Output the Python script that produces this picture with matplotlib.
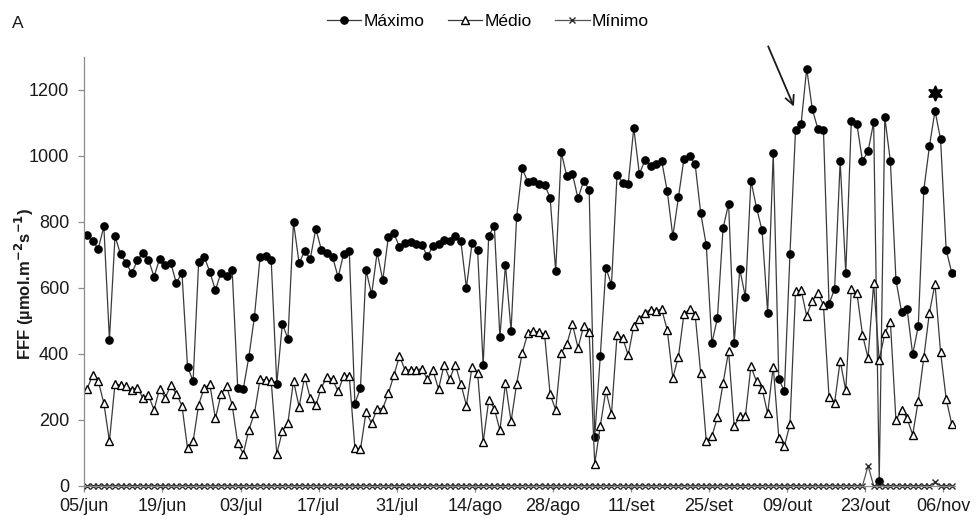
import numpy as np
import matplotlib
matplotlib.use("Agg")
import matplotlib.pyplot as plt

plt.rcParams['font.family'] = ['Liberation Sans', 'DejaVu Sans']

# daily photon flux, 05/jun .. 07/nov
maximo = [759, 741, 719, 786, 443, 756, 702, 675, 644, 683,
          707, 685, 634, 688, 669, 675, 614, 646, 361, 317,
          679, 694, 648, 593, 646, 636, 655, 296, 294, 391,
          513, 692, 696, 684, 309, 491, 446, 799, 675, 711,
          688, 779, 715, 706, 694, 632, 704, 711, 249, 296,
          654, 580, 708, 623, 754, 765, 724, 735, 740, 734,
          731, 695, 727, 733, 745, 742, 758, 741, 600, 735,
          715, 365, 758, 788, 451, 670, 470, 815, 962, 921,
          924, 915, 913, 873, 651, 1011, 938, 946, 871, 924,
          898, 148, 394, 661, 609, 943, 919, 915, 1085, 945,
          987, 969, 977, 985, 893, 756, 875, 992, 999, 975,
          827, 729, 432, 509, 780, 855, 434, 657, 573, 925,
          843, 774, 525, 1008, 323, 287, 704, 1080, 1098, 1265,
          1142, 1082, 1080, 552, 595, 984, 644, 1107, 1096, 985,
          1014, 1102, 15, 1117, 984, 624, 527, 535, 398, 484,
          898, 1029, 1137, 1050, 715, 646]

medio = [294, 335, 317, 250, 135, 309, 304, 301, 291, 297,
         266, 274, 230, 294, 266, 305, 278, 243, 113, 134,
         246, 297, 307, 204, 277, 301, 245, 128, 97, 170,
         220, 322, 321, 318, 97, 165, 191, 318, 239, 331,
         266, 244, 297, 331, 322, 286, 333, 333, 115, 110,
         223, 189, 234, 234, 280, 335, 394, 350, 352, 350,
         355, 323, 350, 293, 367, 323, 367, 309, 243, 361,
         342, 132, 259, 234, 168, 311, 195, 309, 403, 462,
         470, 465, 460, 277, 230, 403, 429, 490, 418, 483,
         465, 66, 182, 289, 217, 456, 448, 396, 485, 506,
         525, 534, 531, 535, 472, 327, 391, 521, 535, 519,
         341, 134, 150, 207, 310, 408, 180, 210, 210, 362,
         316, 294, 219, 361, 145, 120, 186, 589, 593, 515,
         561, 584, 548, 269, 251, 379, 289, 597, 584, 458,
         387, 614, 380, 462, 497, 198, 231, 204, 154, 258,
         390, 525, 612, 404, 264, 186]

minimo = [0] * 156
minimo[140] = 60
minimo[152] = 10

tick_labels = ['05/jun', '19/jun', '03/jul', '17/jul', '31/jul', '14/ago',
               '28/ago', '11/set', '25/set', '09/out', '23/out', '06/nov']

# highlighted day and its value
star_day = 152
star_value = 1190

days = np.arange(len(maximo))

fig = plt.figure(figsize=(9.76, 5.2), dpi=100)
ax = fig.add_axes([0.0864, 0.066, 0.8916, 0.8244])

line_col = '#3a3a3a'
ax.plot(days, maximo, '-', color=line_col, lw=0.9, marker='o', ms=5.2,
        mfc='black', mec='black', label='Máximo')
ax.plot(days, medio, '-', color=line_col, lw=0.9, marker='^', ms=5.2,
        mfc='white', mec='black', mew=1.0, label='Médio')
ax.plot(days, minimo, '-', color='#555555', lw=0.9, marker='x', ms=3.8,
        mec='#2a2a2a', mew=1.0, label='Mínimo', clip_on=False)

ax.plot([star_day], [star_value], marker=(6, 1, 0), ms=11, color='black',
        ls='none')

ax.annotate('', xy=(126.9, 1142), xytext=(121.9, 1340),
            xycoords='data', textcoords='data', annotation_clip=False,
            arrowprops=dict(arrowstyle='->', color='#1a1a1a', lw=1.3,
                            mutation_scale=16))

ax.set_xlim(-0.5, len(maximo) - 0.5)
ax.set_ylim(0, 1300)
ax.set_yticks(range(0, 1201, 200))
ax.set_xticks(np.arange(len(tick_labels)) * 14 - 0.5)
ax.set_xticklabels(tick_labels)

for side in ['top', 'right']:
    ax.spines[side].set_visible(False)
for side in ['left', 'bottom']:
    ax.spines[side].set_color('#8c8c8c')
    ax.spines[side].set_linewidth(0.9)
ax.tick_params(axis='both', colors='#8c8c8c', length=4, width=0.9,
               labelsize=13, labelcolor='#1a1a1a')
ax.tick_params(axis='x', pad=5)
ax.tick_params(axis='y', pad=7)

ax.set_ylabel(r'FFF (µmol.m$^{\mathbf{-2}}$s$^{\mathbf{-1}}$)',
              fontsize=12, fontweight='bold', color='#1a1a1a')
ax.yaxis.set_label_coords(-0.055, 0.47)

fig.text(0.012, 0.955, 'A', fontsize=12.5, va='center', ha='left',
         color='#1a1a1a')

fig.legend(loc='center', bbox_to_anchor=(0.5, 0.958), ncol=3,
           frameon=False, fontsize=12.5, handlelength=2.0,
           handletextpad=0.15, columnspacing=1.3, borderpad=0)

fig.savefig('out.png', dpi=100)
